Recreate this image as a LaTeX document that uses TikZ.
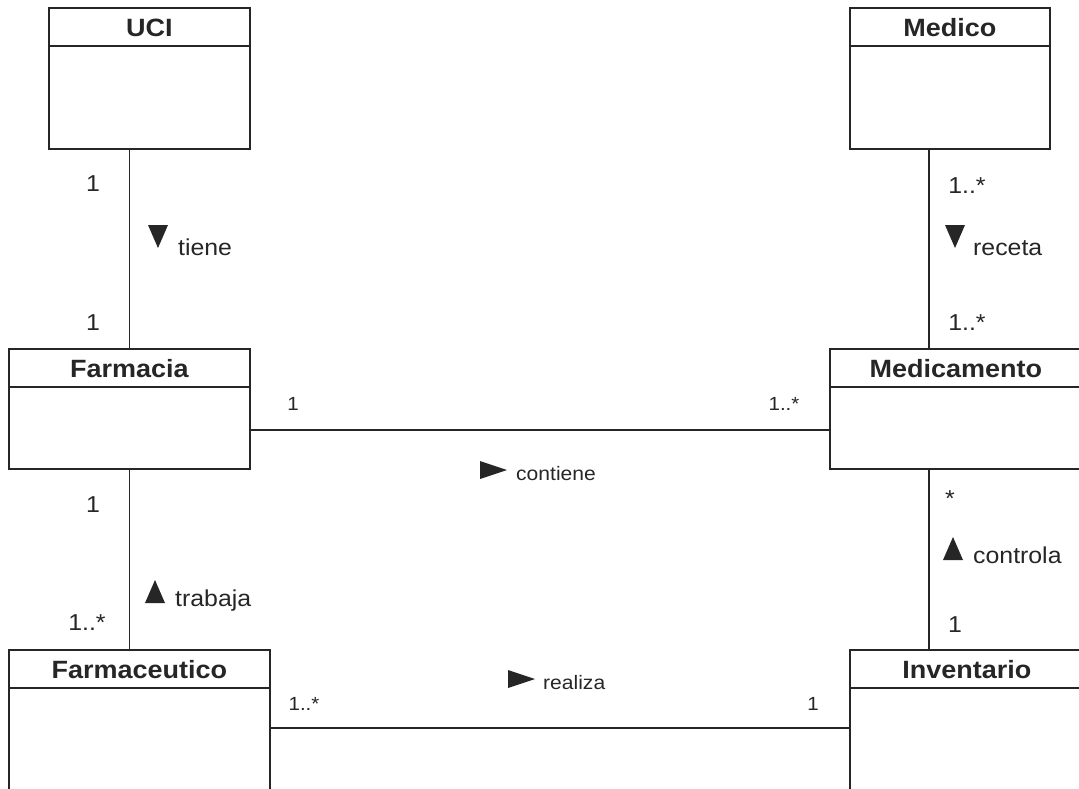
\documentclass[tikz,border=0pt]{standalone}
\usepackage{fontspec}
\setmainfont{Liberation Sans}[FakeStretch=1.08]
\definecolor{ink}{HTML}{262626}

% One UML class: name, x, y (top left), width, height, title
\newcommand{\umlclass}[6]{%
  \node[classbox, minimum width=#4pt, minimum height=#5pt] (#1) at (#2,#3) {};
  \draw[divider] ([yshift=-39pt]#1.north west) -- ([yshift=-39pt]#1.north east);
  \node[classtitle] (#1-title) at ([yshift=-29.5pt]#1.north) {#6};
}

\begin{document}
\begin{tikzpicture}[x=1pt, y=-1pt,
  classbox/.style={draw=ink, line width=1.8pt, anchor=north west, inner sep=0pt, fill=white},
  divider/.style={draw=ink, line width=1.6pt},
  classtitle/.style={font=\fontsize{25}{30}\selectfont\bfseries, text=ink, inner sep=0pt, anchor=base},
  assoc/.style={draw=ink, line width=1.5pt},
  mult/.style={font=\fontsize{23}{28}\selectfont, text=ink, inner sep=0pt},
  smallmult/.style={font=\fontsize{19}{23}\selectfont, text=ink, inner sep=0pt},
  rolename/.style={font=\fontsize{23}{28}\selectfont, text=ink, inner sep=0pt, anchor=base west},
  smallrole/.style={font=\fontsize{19.5}{24}\selectfont, text=ink, inner sep=0pt, anchor=base west},
  dirmark/.style={fill=ink}
]
\useasboundingbox (0,0) rectangle (1079,789);
\fill[white] (0,0) rectangle (1079,789);
\clip (0,0) rectangle (1079,789);

% classes
\umlclass{uci}{48}{7}{201}{141}{UCI}
\umlclass{medico}{849}{7}{200}{141}{Medico}
\umlclass{farmacia}{8}{348}{241}{120}{Farmacia}
\umlclass{medicamento}{829}{348}{252}{120}{Medicamento}
\umlclass{farmaceutico}{8}{649}{261}{160}{Farmaceutico}
\umlclass{inventario}{849}{649}{234}{160}{Inventario}

% associations
\draw[assoc] (uci.south -| farmacia.north) -- (farmacia.north);
\draw[assoc] ([xshift=100pt]medicamento.north west |- medico.south) -- ([xshift=100pt]medicamento.north west);
\draw[assoc] (farmacia.south) -- (farmacia.south |- farmaceutico.north);
\draw[assoc] ([xshift=100pt]medicamento.south west) -- ([xshift=100pt]medicamento.south west |- inventario.north);
\draw[assoc] ([yshift=40pt]farmacia.south east) -- ([yshift=40pt]farmacia.south east -| medicamento.west);
\draw[assoc] ([yshift=-79pt]farmaceutico.north east) -- ([yshift=-79pt]farmaceutico.north east -| inventario.west);

% multiplicities
\node[mult] (m1) at (93,184) {1};
\node[mult] (m2) at (93,323) {1};
\node[mult] (m3) at (967,186) {1..*};
\node[mult] (m4) at (967,323) {1..*};
\node[mult] (m5) at (93,505) {1};
\node[mult] (m6) at (87,623) {1..*};
\node[mult] (m7) at (950,499) {*};
\node[mult] (m8) at (955,625) {1};
\node[smallmult] (m9) at (293,404) {1};
\node[smallmult] (m10) at (784,404) {1..*};
\node[smallmult] (m11) at (304,704) {1..*};
\node[smallmult] (m12) at (813,704) {1};

% association names with reading direction
\fill[dirmark] (148,225) -- (168,225) -- (158,248) -- cycle;
\node[rolename] (tiene) at (178,255) {tiene};
\fill[dirmark] (945,225) -- (965,225) -- (955,248) -- cycle;
\node[rolename] (receta) at (973,255) {receta};
\fill[dirmark] (480,461) -- (507,470) -- (480,479) -- cycle;
\node[smallrole] (contiene) at (516,480) {contiene};
\fill[dirmark] (508,670) -- (535,679) -- (508,688) -- cycle;
\node[smallrole] (realiza) at (543,689) {realiza};
\fill[dirmark] (145,603) -- (165,603) -- (155,580) -- cycle;
\node[rolename] (trabaja) at (175,606) {trabaja};
\fill[dirmark] (943,560) -- (963,560) -- (953,537) -- cycle;
\node[rolename] (controla) at (973,563) {controla};
\end{tikzpicture}
\end{document}
